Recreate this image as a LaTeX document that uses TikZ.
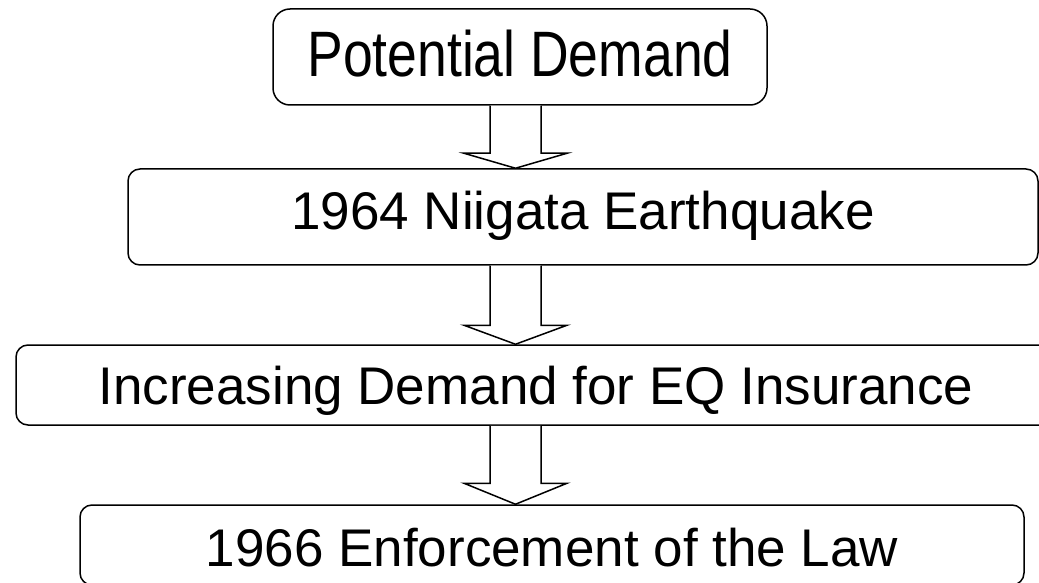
\documentclass[tikz,border=0pt]{standalone}
\usepackage{fontspec}
\setmainfont{Liberation Sans}
\usetikzlibrary{calc}
\tikzset{
  stage/.style={draw=black,line width=1.5pt,rounded corners=12pt,inner sep=0pt,
    font=\fontsize{53}{64}\selectfont},
  tall/.style={stage,minimum height=96pt,text height=40pt,text depth=14pt},
  flat/.style={stage,minimum height=80pt,text height=45pt,text depth=7pt},
  blockarrow/.style={draw=black,line width=1.5pt,line join=miter,fill=white}
}
\begin{document}
\begin{tikzpicture}[x=1pt,y=1pt]
\path[use as bounding box,fill=white] (0,0) rectangle (1039,582);
\begin{scope}
\path[clip] (0,0) rectangle (1039,582);

\node[tall,minimum width=494pt,rounded corners=17pt,text height=52pt,text depth=12pt,
  font=\fontsize{53.5}{64}\selectfont] (pd) at (520,525) {\scalebox{1}[1.2]{Potential Demand}};

\node[tall,minimum width=910pt] (nq) at (583,365) {1964 Niigata Earthquake};

\node[flat,minimum width=1040pt] (id) at (536,197) {Increasing Demand for EQ Insurance};

\node[flat,minimum width=944pt,text height=48pt,text depth=6pt] (el) at (552,37) {1966 Enforcement of the Law};

\coordinate (ax) at (515.5,0);

\foreach \a/\b/\h in {pd/nq/15,nq/id/19,id/el/21}
  \path[blockarrow] ($(ax |- \a.south)+(-25.5,0)$) --
	($(ax |- \b.north)+(-25.5,\h)$) -- ++(-26,0) --
	(ax |- \b.north) --
	($(ax |- \b.north)+(51.5,\h)$) -- ++(-26,0) --
	($(ax |- \a.south)+(25.5,0)$);
\end{scope}
\end{tikzpicture}
\end{document}
